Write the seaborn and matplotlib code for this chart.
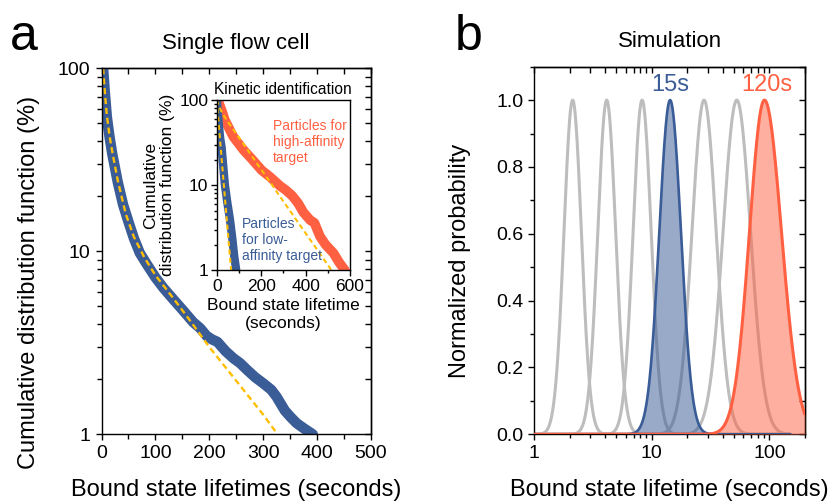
import numpy as np
import matplotlib
matplotlib.use("Agg")
import matplotlib.pyplot as plt
import seaborn as sns
from matplotlib.ticker import MultipleLocator, LogLocator, NullFormatter

# ---------------- panel a: single flow cell (time s, CDF %) ----------------
cdf_time = [3, 6, 10, 15, 20, 30, 40, 50, 60, 71, 84, 100, 115, 130, 150, 170, 183,
            195, 205, 215, 230, 245, 257, 270, 285, 300, 315, 325, 340, 350, 362, 375, 392]
cdf_pct = [100, 75, 54, 42, 34, 24, 18, 14.5, 11.8, 9.8, 8.5, 7.2, 6.3, 5.6, 4.8, 4.1, 3.8,
           3.45, 3.3, 3.2, 2.85, 2.6, 2.45, 2.25, 2.05, 1.9, 1.75, 1.6, 1.35, 1.25, 1.15, 1.08, 1.0]
fit_time = [3, 6, 10, 15, 20, 30, 45, 60, 80, 100, 130, 160, 200, 250, 300, 330]
fit_pct = [100, 75, 55, 42.5, 35, 24.5, 16, 12, 9.2, 7.4, 5.7, 4.35, 3.0, 1.96, 1.28, 0.97]

# inset: kinetic identification
hi_time = [5, 22, 37, 75, 120, 160, 202, 240, 285, 310, 340, 367, 390, 420, 440, 465, 490, 525, 550, 577]
hi_pct = [100, 76, 58, 37, 26, 20, 15, 12.5, 9.8, 8.8, 7.5, 6.1, 4.8, 3.9, 3.6, 2.5, 2.0, 1.6, 1.25, 1.0]
hi_fit_time = [0, 10, 25, 45, 100, 150, 200, 250, 300, 350, 400, 450, 517]
hi_fit_pct = [100, 85, 70, 58, 36.3, 23.6, 15.3, 10, 6.45, 4.2, 2.73, 1.78, 1.0]
lo_time = [1, 5, 10, 16, 22, 30, 37, 48, 60, 70, 79, 88]
lo_pct = [100, 70, 50, 35, 28, 16, 10, 6.2, 3.9, 2.4, 1.45, 1.0]
lo_fit_time = [0, 10, 20, 30, 40, 50, 65]
lo_fit_pct = [100, 49, 24, 11.7, 5.7, 2.8, 1.0]

# ---------------- panel b: simulated lifetime distributions ----------------
gray_mode = [2.12, 4.13, 8.26, 27.8, 52.8]          # seconds (peak position)
gray_sigma = [0.074, 0.076, 0.077, 0.103, 0.117]     # width, decades
blue_mode, blue_sigma = 14.3, 0.092
red_mode, red_sigma_left, red_sigma_right = 90.7, 0.127, 0.145

BLUE = "#3A5C97"
RED = "#FF6042"
YELLOW = "#FFBE00"
GRAY = "#BDBDBD"

sns.set_style("ticks", {"axes.edgecolor": "black", "text.color": "black",
                        "xtick.color": "black", "ytick.color": "black",
                        "axes.labelcolor": "black"})
plt.rcParams["font.family"] = ["Liberation Sans", "DejaVu Sans"]
plt.rcParams["axes.linewidth"] = 1.0

W, H = 834, 504
fig = plt.figure(figsize=(W / 100, H / 100), dpi=100)
ax_a = fig.add_axes([101.5 / W, 1 - 434.3 / H, 269.5 / W, 366 / H])
ax_b = fig.add_axes([534.3 / W, 1 - 434.3 / H, 270.5 / W, 367.6 / H])
ax_in = fig.add_axes([216.7 / W, 1 - 270.3 / H, 133.3 / W, 170.3 / H])


def mirror_ticks(ax, xmajor, xminor, ymajor, yminor):
    top = ax.secondary_xaxis("top")
    top.xaxis.set_major_locator(xmajor)
    top.xaxis.set_minor_locator(xminor)
    top.xaxis.set_major_formatter(NullFormatter())
    top.xaxis.set_minor_formatter(NullFormatter())
    top.tick_params(which="both", direction="in", length=4, width=1)
    right = ax.secondary_yaxis("right")
    right.yaxis.set_major_locator(ymajor)
    right.yaxis.set_minor_locator(yminor)
    right.yaxis.set_major_formatter(NullFormatter())
    right.yaxis.set_minor_formatter(NullFormatter())
    right.tick_params(which="both", direction="in", length=4, width=1)


# ---- (a) main CDF
sns.lineplot(x=cdf_time, y=cdf_pct, ax=ax_a, color=BLUE, lw=7.5, sort=False,
             estimator=None, solid_capstyle="round")
sns.lineplot(x=fit_time, y=fit_pct, ax=ax_a, color=YELLOW, lw=1.7, sort=False,
             estimator=None, linestyle=(0, (2.6, 1.6)))
ax_a.set_yscale("log")
ax_a.set_xlim(0, 500)
ax_a.set_ylim(1, 100)
ax_a.set_xticks([0, 100, 200, 300, 400, 500])
ax_a.xaxis.set_minor_locator(MultipleLocator(50))
ax_a.set_yticks([1, 10, 100], labels=["1", "10", "100"])
ax_a.yaxis.set_minor_locator(LogLocator(subs=np.arange(2, 10)))
ax_a.yaxis.set_minor_formatter(NullFormatter())
ax_a.tick_params(which="both", direction="out", labelsize=14, width=1)
ax_a.tick_params(which="major", length=4.5)
ax_a.tick_params(which="minor", length=3.5)
mirror_ticks(ax_a, MultipleLocator(100), MultipleLocator(50),
             LogLocator(), LogLocator(subs=np.arange(2, 10)))
ax_a.set_xlabel("Bound state lifetimes (seconds)", fontsize=17, labelpad=12)
ax_a.set_ylabel("Cumulative distribution function (%)", fontsize=17)
ax_a.yaxis.set_label_coords(-0.228, 0.415)
ax_a.set_title("Single flow cell", fontsize=16, pad=14)

# ---- (a) inset
sns.lineplot(x=hi_time, y=hi_pct, ax=ax_in, color=RED, lw=7, sort=False, estimator=None)
sns.lineplot(x=lo_time, y=lo_pct, ax=ax_in, color=BLUE, lw=6, sort=False, estimator=None)
sns.lineplot(x=hi_fit_time, y=hi_fit_pct, ax=ax_in, color=YELLOW, lw=1.5, sort=False,
             estimator=None, linestyle=(0, (2.4, 1.6)))
sns.lineplot(x=lo_fit_time, y=lo_fit_pct, ax=ax_in, color=YELLOW, lw=1.5, sort=False,
             estimator=None, linestyle=(0, (2.4, 1.6)))
ax_in.set_yscale("log")
ax_in.set_xlim(0, 600)
ax_in.set_ylim(1, 100)
ax_in.set_xticks([0, 200, 400, 600])
ax_in.xaxis.set_minor_locator(MultipleLocator(100))
ax_in.set_yticks([1, 10, 100], labels=["1", "10", "100"])
ax_in.yaxis.set_minor_locator(LogLocator(subs=np.arange(2, 10)))
ax_in.yaxis.set_minor_formatter(NullFormatter())
ax_in.tick_params(which="both", direction="out", labelsize=12.5, width=1, pad=2)
ax_in.tick_params(which="major", length=4)
ax_in.tick_params(which="minor", length=2.5)
ax_in.set_xlabel("Bound state lifetime\n(seconds)", fontsize=12.5, labelpad=3,
                 linespacing=1.25)
ax_in.set_ylabel("Cumulative\ndistribution function (%)", fontsize=12.5, labelpad=3,
                 linespacing=1.15)
ax_in.set_title("Kinetic identification", fontsize=11.2, pad=4)
fig.text(273.3 / W, 1 - 119 / H, "Particles for\nhigh-affinity\ntarget", color=RED,
         fontsize=10, ha="left", va="top", linespacing=1.2)
fig.text(241.7 / W, 1 - 217 / H, "Particles\nfor low-\naffinity target", color=BLUE,
         fontsize=10, ha="left", va="top", linespacing=1.2)

# ---- (b) simulated distributions
grid = np.logspace(0, np.log10(150), 700)
grid_red = np.logspace(0, np.log10(200), 700)


def bell(x, mode, s_left, s_right):
    d = np.log10(x) - np.log10(mode)
    s = np.where(d < 0, s_left, s_right)
    return np.exp(-0.5 * (d / s) ** 2)


for m, s in zip(gray_mode, gray_sigma):
    sns.lineplot(x=grid, y=bell(grid, m, s, s), ax=ax_b, color=GRAY, lw=2.2,
                 estimator=None, sort=False, zorder=2)
y_blue = bell(grid, blue_mode, blue_sigma, blue_sigma)
y_red = bell(grid_red, red_mode, red_sigma_left, red_sigma_right)
ax_b.fill_between(grid, 0, y_blue, color=BLUE, alpha=0.52, lw=0, zorder=3)
ax_b.fill_between(grid_red, 0, y_red, color=RED, alpha=0.5, lw=0, zorder=3)
sns.lineplot(x=grid, y=y_blue, ax=ax_b, color=BLUE, lw=1.9, estimator=None,
             sort=False, zorder=4)
sns.lineplot(x=grid_red, y=y_red, ax=ax_b, color=RED, lw=2.2, estimator=None,
             sort=False, zorder=4)
ax_b.set_xscale("log")
ax_b.set_xlim(1, 200)
ax_b.set_ylim(0, 1.1)
ax_b.set_xticks([1, 10, 100], labels=["1", "10", "100"])
ax_b.xaxis.set_minor_locator(LogLocator(subs=np.arange(2, 10)))
ax_b.xaxis.set_minor_formatter(NullFormatter())
ax_b.set_yticks([0, 0.2, 0.4, 0.6, 0.8, 1.0],
                labels=["0.0", "0.2", "0.4", "0.6", "0.8", "1.0"])
ax_b.yaxis.set_minor_locator(MultipleLocator(0.1))
ax_b.tick_params(which="both", direction="out", labelsize=14, width=1)
ax_b.tick_params(which="major", length=4.5)
ax_b.tick_params(which="minor", length=3)
mirror_ticks(ax_b, LogLocator(), LogLocator(subs=np.arange(2, 10)),
             MultipleLocator(0.2), MultipleLocator(0.1))
ax_b.set_xlabel("Bound state lifetime (seconds)", fontsize=17, labelpad=12)
ax_b.set_ylabel("Normalized probability", fontsize=17)
ax_b.yaxis.set_label_coords(-0.234, 0.473)
ax_b.set_title("Simulation", fontsize=16, pad=14)
ax_b.text(blue_mode, 1.045, "15s", color=BLUE, fontsize=17, ha="center", va="center")
ax_b.text(red_mode * 1.04, 1.045, "120s", color=RED, fontsize=17, ha="center", va="center")

fig.text(10 / W, 1 - 50 / H, "a", fontsize=36, ha="left", va="baseline")
fig.text(455 / W, 1 - 50 / H, "b", fontsize=36, ha="left", va="baseline")

fig.savefig("out.png", dpi=100)
